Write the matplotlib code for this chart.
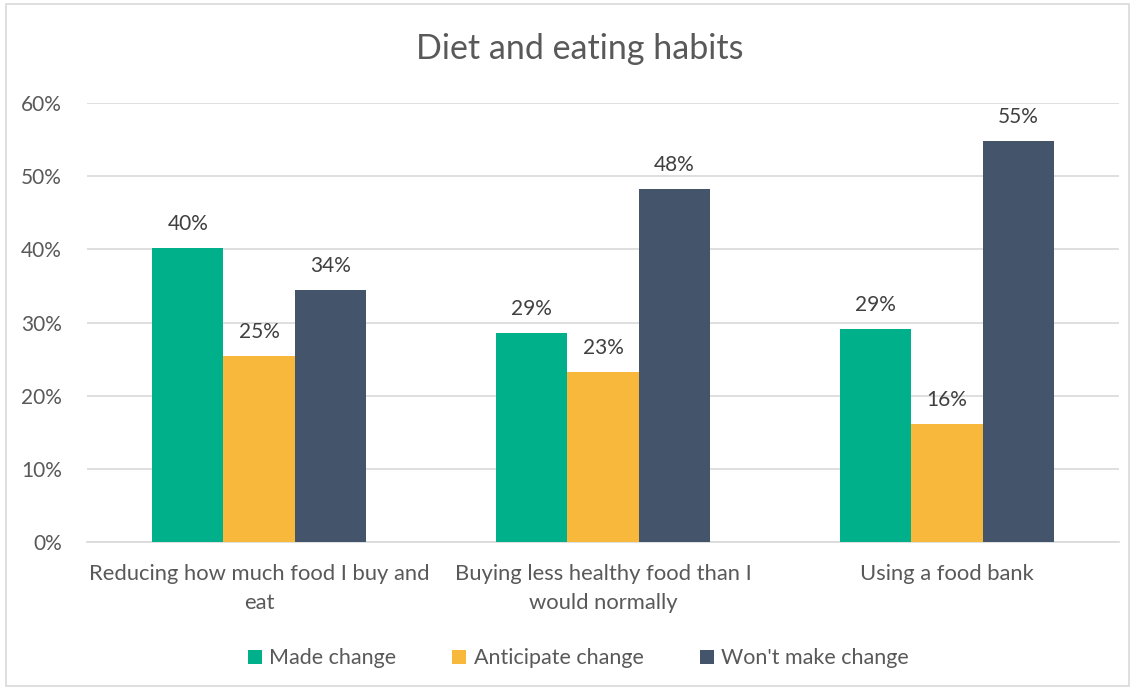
# Diet and eating habits - grouped bar chart of reported changes

import matplotlib.pyplot as plt
import numpy as np
from matplotlib.patches import Rectangle
from matplotlib.ticker import FuncFormatter

plt.rcParams['font.family'] = ['Lato', 'DejaVu Sans']

categories = ['Reducing how much food I buy and\neat',
              'Buying less healthy food than I\nwould normally',
              'Using a food bank']
series = ['Made change', 'Anticipate change', "Won't make change"]
made = [40.2, 28.6, 29.1]
anticipate = [25.4, 23.2, 16.1]
wont = [34.4, 48.2, 54.8]
colors = ['#00B08B', '#F8B83C', '#44546A']

text_col = '#595959'

fig = plt.figure(figsize=(11.36, 6.9), dpi=100)
ax = fig.add_axes([0.0766, 0.2145, 0.9084, 0.6362])

x = np.arange(len(categories))
w = 0.207
for i, (vals, name, c) in enumerate(zip([made, anticipate, wont], series, colors)):
    bars = ax.bar(x + (i - 1) * w, vals, w, color=c, label=name, zorder=3)
    for b, v in zip(bars, vals):
        ax.annotate('%d%%' % round(v), (b.get_x() + b.get_width() / 2, v),
                    xytext=(0, 10), textcoords='offset points',
                    ha='center', va='bottom', fontsize=15, color='#404040')

ax.set_xlim(-0.5, 2.5)
ax.set_ylim(0, 60)
ax.set_yticks(np.arange(0, 61, 10))
ax.yaxis.set_major_formatter(FuncFormatter(lambda v, p: '%d%%' % v))
ax.set_xticks(x)
ax.set_xticklabels(categories, fontsize=15.8, color=text_col, linespacing=1.55)
ax.tick_params(axis='y', labelsize=15, colors=text_col, length=0, pad=18)
ax.tick_params(axis='x', length=0, pad=16)

ax.yaxis.grid(color='#D9D9D9', linewidth=1.2, zorder=0)
for s in ['top', 'right', 'left']:
    ax.spines[s].set_visible(False)
ax.spines['bottom'].set_color('#D9D9D9')
ax.spines['bottom'].set_linewidth(1.2)

fig.suptitle('Diet and eating habits', x=0.51, y=0.952, fontsize=24.5, color=text_col)

ax.legend(loc='center', bbox_to_anchor=(0.476, -0.265), ncol=3, frameon=False,
          fontsize=15.5, labelcolor=text_col, handlelength=0.65, handleheight=0.65,
          handletextpad=0.35, columnspacing=2.6)

# chart border
fig.patches.append(Rectangle((0.005, 0.006), 0.989, 0.988, transform=fig.transFigure,
                             fill=False, edgecolor='#D9D9D9', linewidth=1.2))

plt.savefig('out.png', dpi=100)
